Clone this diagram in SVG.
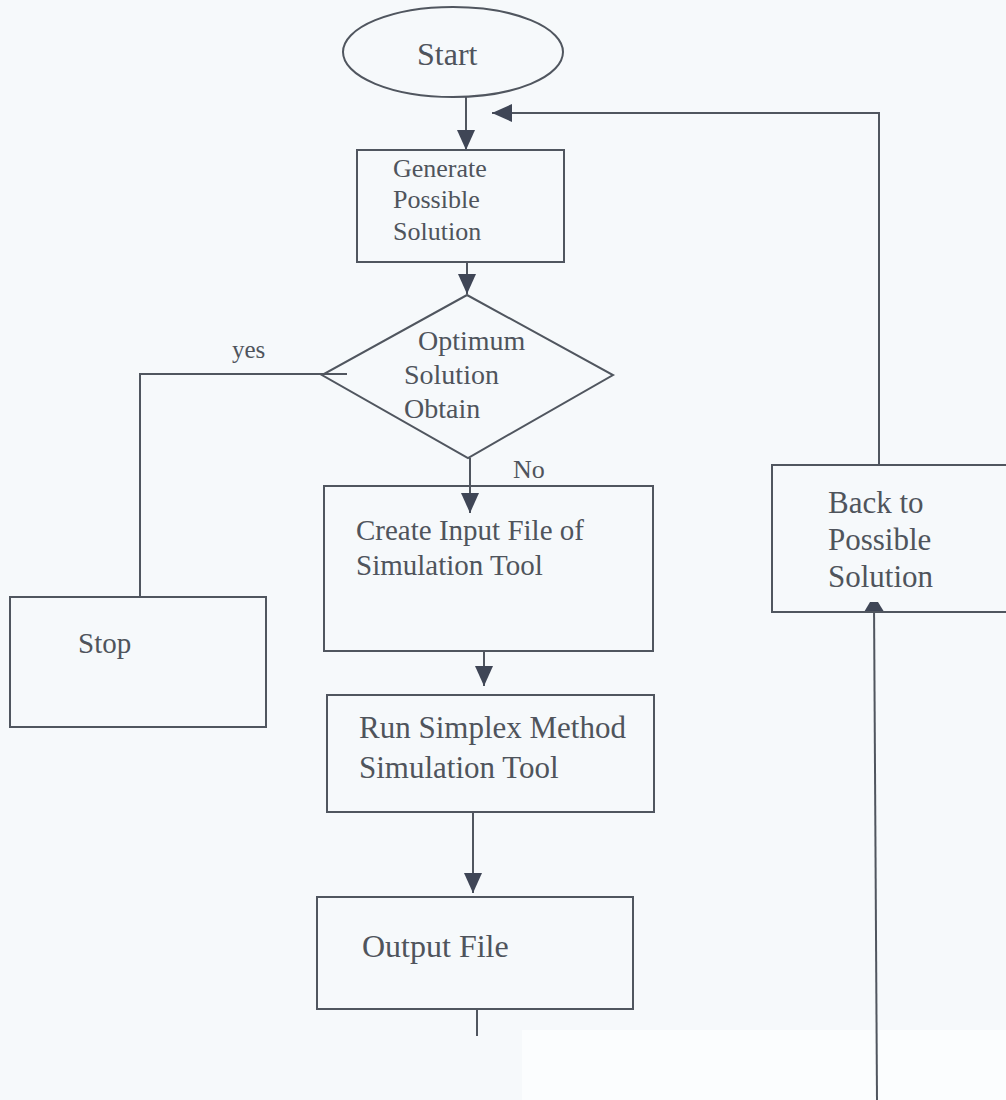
<svg xmlns="http://www.w3.org/2000/svg" width="1006" height="1100" viewBox="0 0 1006 1100">
<style>
.shape{fill:none;stroke:#50565f;stroke-width:2}
.conn{fill:none;stroke:#50565f;stroke-width:2}
text{font-family:"Liberation Serif","Times New Roman",serif;fill:#4f545c}
</style>
<defs>
<marker id="arr" viewBox="0 0 20 18" refX="20" refY="9" markerWidth="20" markerHeight="18" markerUnits="userSpaceOnUse" orient="auto">
<path d="M0,0 L20,9 L0,18 z" fill="#3f4656"/>
</marker>
<marker id="arrSmall" viewBox="0 0 10 20" refX="10" refY="10" markerWidth="10" markerHeight="20" markerUnits="userSpaceOnUse" orient="auto">
<path d="M0,0 L10,6 L10,14 L0,20 z" fill="#3f4656"/>
</marker>
</defs>
<rect width="1006" height="1100" fill="#f6f9fb"/>
<rect x="522" y="1030" width="484" height="70" fill="#fbfdfe"/>

<g id="connectors">
<line class="conn" x1="466" y1="97" x2="466" y2="150" marker-end="url(#arr)"/>
<line class="conn" x1="467" y1="262" x2="467" y2="294" marker-end="url(#arr)"/>
<line class="conn" x1="470" y1="458" x2="470" y2="513" marker-end="url(#arr)"/>
<line class="conn" x1="484" y1="651" x2="484" y2="686" marker-end="url(#arr)"/>
<line class="conn" x1="473" y1="812" x2="473" y2="893" marker-end="url(#arr)"/>
<line class="conn" x1="477" y1="1009" x2="477" y2="1036"/>
<polyline class="conn" points="347,374 140,374 140,597"/>
<polyline class="conn" points="879,465 879,113 492,113" marker-end="url(#arr)"/>
<line class="conn" x1="877" y1="1100" x2="874" y2="602" marker-end="url(#arrSmall)"/>
<text x="232" y="358" font-size="25">yes</text>
<text x="513" y="478" font-size="26">No</text>
</g>

<g id="start">
<ellipse class="shape" cx="453" cy="52" rx="110" ry="45"/>
<text x="417" y="65" font-size="32">Start</text>
</g>

<g id="generate">
<rect class="shape" x="357" y="150" width="207" height="112"/>
<text x="393" y="177" font-size="26">Generate</text>
<text x="393" y="208" font-size="26">Possible</text>
<text x="393" y="240" font-size="26">Solution</text>
</g>

<g id="decision">
<polygon class="shape" points="467,295 613,375 468,458 322,375"/>
<text x="418" y="350" font-size="28">Optimum</text>
<text x="404" y="384" font-size="28">Solution</text>
<text x="404" y="418" font-size="28">Obtain</text>
</g>

<g id="stop">
<rect class="shape" x="10" y="597" width="256" height="130"/>
<text x="78" y="653" font-size="29">Stop</text>
</g>

<g id="create-input">
<rect class="shape" x="324" y="486" width="329" height="165"/>
<text x="356" y="540" font-size="29">Create Input File of</text>
<text x="356" y="575" font-size="29">Simulation Tool</text>
</g>

<g id="run-simplex">
<rect class="shape" x="327" y="695" width="327" height="117"/>
<text x="359" y="738" font-size="31">Run Simplex Method</text>
<text x="359" y="778" font-size="31">Simulation Tool</text>
</g>

<g id="output-file">
<rect class="shape" x="317" y="897" width="316" height="112"/>
<text x="362" y="957" font-size="32">Output File</text>
</g>

<g id="back">
<rect class="shape" x="772" y="465" width="240" height="147"/>
<text x="828" y="513" font-size="31">Back to</text>
<text x="828" y="550" font-size="31">Possible</text>
<text x="828" y="587" font-size="31">Solution</text>
</g>
</svg>
